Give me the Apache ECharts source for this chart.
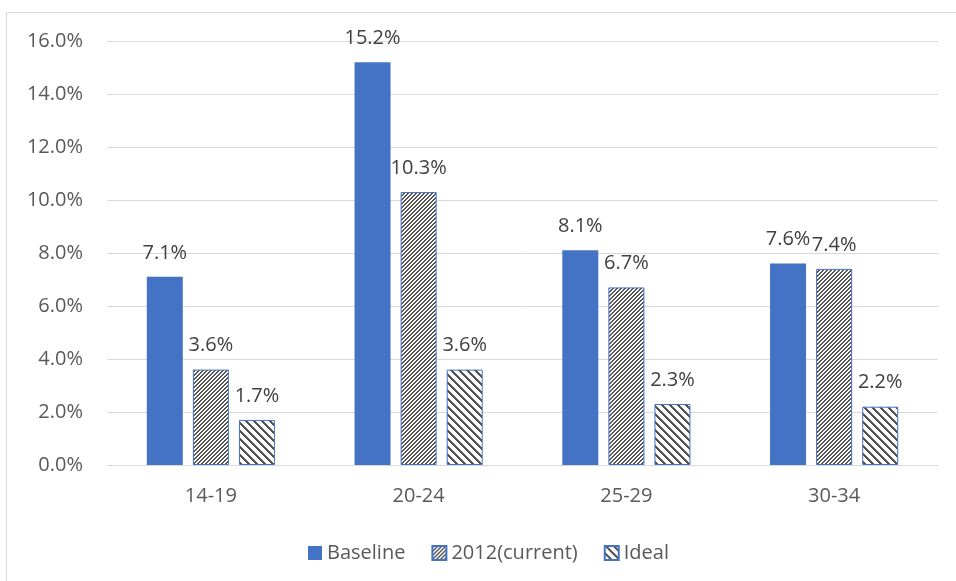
<!DOCTYPE html>
<html>
<head>
<meta charset="utf-8">
<script src="https://cdn.jsdelivr.net/npm/echarts@6/dist/echarts.min.js"></script>
<style>
  html, body { margin: 0; padding: 0; background: #fff; }
  #chart { width: 956px; height: 581px; }
</style>
</head>
<body>
<div id="chart"></div>
<script>
// Age groups and shares (percent) for each scenario
const categories = ['14-19', '20-24', '25-29', '30-34'];
const baseline = [7.1, 15.2, 8.1, 7.6];
const current2012 = [3.6, 10.3, 6.7, 7.4];
const ideal = [1.7, 3.6, 2.3, 2.2];
const seriesNames = ['Baseline', '2012(current)', 'Ideal'];

const BLUE = '#4472C4';
const STRIPE = '#555555';

// Pixel hatch tile: dense upward diagonal ("/")
function upDiagTile() {
  const c = document.createElement('canvas');
  c.width = 4; c.height = 4;
  const g = c.getContext('2d');
  g.fillStyle = '#fff'; g.fillRect(0, 0, 4, 4);
  g.fillStyle = STRIPE;
  for (let y = 0; y < 4; y++) {
    for (let x = 0; x < 4; x++) {
      if (((x + y) % 4) < 2) g.fillRect(x, y, 1, 1);
    }
  }
  return c;
}

// Pixel hatch tile: wide downward diagonal ("\")
function downDiagTile() {
  const n = 8;
  const c = document.createElement('canvas');
  c.width = n; c.height = n;
  const g = c.getContext('2d');
  g.fillStyle = '#fff'; g.fillRect(0, 0, n, n);
  g.fillStyle = STRIPE;
  for (let y = 0; y < n; y++) {
    for (let x = 0; x < n; x++) {
      if ((((x - y) % n) + n) % n < 3) g.fillRect(x, y, 1, 1);
    }
  }
  return c;
}

const upPattern = { image: upDiagTile(), repeat: 'repeat' };
const downPattern = { image: downDiagTile(), repeat: 'repeat' };

const FONT = '"Open Sans", "Noto Sans", sans-serif';

const labelStyle = {
  show: true,
  position: 'top',
  distance: 14,
  color: '#404040',
  fontFamily: FONT,
  fontSize: 20,
  formatter: p => p.value.toFixed(1) + '%'
};

const chart = echarts.init(document.getElementById('chart'), null, { renderer: 'canvas' });

chart.setOption({
  animation: false,
  backgroundColor: '#fff',
  graphic: [{
    type: 'rect',
    shape: { x: 6.5, y: 12.5, width: 1200, height: 1200 },
    style: { fill: 'none', stroke: '#d9d9d9', lineWidth: 1 },
    silent: true
  }],
  grid: { left: 107, right: 18, top: 41, bottom: 116, containLabel: false },
  legend: {
    left: 303,
    top: 538,
    icon: 'rect',
    itemWidth: 14,
    itemHeight: 14,
    itemGap: 26,
    textStyle: { color: '#595959', fontFamily: FONT, fontSize: 20 },
    data: seriesNames
  },
  xAxis: {
    type: 'category',
    data: categories,
    axisLine: { lineStyle: { color: '#d9d9d9', width: 1 } },
    axisTick: { show: false },
    axisLabel: { color: '#595959', fontFamily: FONT, fontSize: 20, margin: 21 }
  },
  yAxis: {
    type: 'value',
    min: 0,
    max: 16,
    interval: 2,
    axisLine: { show: false },
    axisTick: { show: false },
    splitLine: { lineStyle: { color: '#d9d9d9', width: 1 } },
    axisLabel: {
      color: '#595959', fontFamily: FONT, fontSize: 20, margin: 24,
      formatter: v => v.toFixed(1) + '%'
    }
  },
  series: [
    {
      name: seriesNames[0], type: 'bar', data: baseline,
      barWidth: 36, barGap: '28%',
      itemStyle: { color: BLUE },
      label: labelStyle
    },
    {
      name: seriesNames[1], type: 'bar', data: current2012,
      barWidth: 36, barGap: '28%',
      itemStyle: { color: upPattern, borderColor: BLUE, borderWidth: 1 },
      label: labelStyle
    },
    {
      name: seriesNames[2], type: 'bar', data: ideal,
      barWidth: 36, barGap: '28%',
      itemStyle: { color: downPattern, borderColor: BLUE, borderWidth: 1 },
      label: labelStyle
    }
  ]
});
</script>
</body>
</html>
